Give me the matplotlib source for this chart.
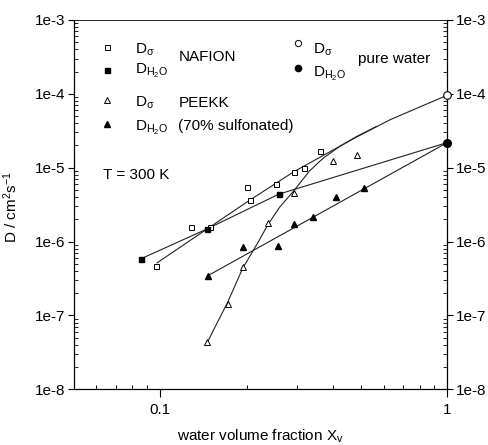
import matplotlib
matplotlib.use("Agg")
import math
import matplotlib.pyplot as plt
from matplotlib.ticker import LogLocator, FixedLocator, FuncFormatter, NullFormatter

plt.rcParams['font.family'] = ['Liberation Sans', 'DejaVu Sans']
plt.rcParams['mathtext.fontset'] = 'custom'
plt.rcParams['mathtext.rm'] = 'Liberation Sans'
plt.rcParams['mathtext.it'] = 'Liberation Sans:italic'
plt.rcParams['mathtext.sf'] = 'Liberation Sans'
FS = 11

# measured points
nafion_sig_x = [0.097, 0.128, 0.149, 0.201, 0.206, 0.254, 0.292, 0.318, 0.361]
nafion_sig_y = [4.6e-7, 1.58e-6, 1.55e-6, 5.45e-6, 3.63e-6, 6.0e-6, 8.8e-6, 9.8e-6, 1.69e-5]
nafion_h2o_x = [0.0856, 0.146, 0.26]
nafion_h2o_y = [5.8e-7, 1.49e-6, 4.37e-6]
peekk_sig_x = [0.146, 0.172, 0.194, 0.237, 0.293, 0.40, 0.486]
peekk_sig_y = [4.3e-8, 1.42e-7, 4.5e-7, 1.77e-6, 4.6e-6, 1.24e-5, 1.48e-5]
peekk_h2o_x = [0.147, 0.195, 0.257, 0.292, 0.34, 0.409, 0.512]
peekk_h2o_y = [3.47e-7, 8.4e-7, 8.8e-7, 1.72e-6, 2.18e-6, 3.99e-6, 5.38e-6]
water_x = [1.0]
water_sig_y = [9.6e-5]
water_h2o_y = [2.19e-5]

# guide curves
fit_nafion_sig_x = [0.0976, 0.1459, 0.2046, 0.2915, 0.3894, 0.4837, 0.6307, 0.8028, 1.0]
fit_nafion_sig_y = [5.15e-7, 1.486e-6, 3.61e-6, 8.77e-6, 1.637e-5, 2.61e-5, 4.44e-5, 6.65e-5, 9.57e-5]
fit_nafion_h2o_x = [0.0856, 0.1459, 0.2589, 1.0]
fit_nafion_h2o_y = [5.83e-7, 1.486e-6, 4.38e-6, 2.19e-5]
fit_peekk_h2o_x = [0.147, 1.0]
fit_peekk_h2o_y = [3.47e-7, 2.19e-5]
fit_peekk_sig_x = [0.1463, 0.1586, 0.1718, 0.1828, 0.1938, 0.2187, 0.2370, 0.2604,
                   0.2899, 0.3315, 0.3688, 0.4218, 0.4827, 0.5668]
fit_peekk_sig_y = [4.39e-8, 8.19e-8, 1.504e-7, 2.595e-7, 4.34e-7, 9.60e-7, 1.683e-6, 2.90e-6,
                   4.71e-6, 9.05e-6, 1.336e-5, 1.941e-5, 2.635e-5, 3.62e-5]

fig = plt.figure(figsize=(4.88, 4.45), dpi=100)
ax = fig.add_axes([0.151, 0.1252, 0.7657, 0.830])

lw = 0.8
for fx, fy in [(fit_nafion_sig_x, fit_nafion_sig_y), (fit_nafion_h2o_x, fit_nafion_h2o_y),
               (fit_peekk_h2o_x, fit_peekk_h2o_y), (fit_peekk_sig_x, fit_peekk_sig_y)]:
    ax.plot(fx, fy, '-', color='#222222', lw=lw, zorder=2)

ax.plot(nafion_sig_x, nafion_sig_y, 's', ms=3.6, mfc='white', mec='black', mew=0.7, ls='none', zorder=3)
ax.plot(nafion_h2o_x, nafion_h2o_y, 's', ms=3.6, mfc='black', mec='black', ls='none', zorder=3)
ax.plot(peekk_sig_x, peekk_sig_y, '^', ms=4, mfc='white', mec='black', mew=0.7, ls='none', zorder=3)
ax.plot(peekk_h2o_x, peekk_h2o_y, '^', ms=4, mfc='black', mec='black', ls='none', zorder=3)
ax.plot(water_x, water_sig_y, 'o', ms=5.5, mfc='white', mec='black', mew=0.8, ls='none', zorder=4, clip_on=False)
ax.plot(water_x, water_h2o_y, 'o', ms=5.5, mfc='black', mec='black', ls='none', zorder=4, clip_on=False)

ax.set_xscale('log')
ax.set_yscale('log')
ax.set_xlim(0.05, 1.0)
ax.set_ylim(1e-8, 1e-3)

for s in ['left', 'right', 'bottom']:
    ax.spines[s].set_linewidth(0.9)
ax.spines['top'].set_linewidth(0.6)

ax.xaxis.set_major_locator(FixedLocator([0.1, 1.0]))
ax.xaxis.set_major_formatter(FuncFormatter(lambda v, p: '%g' % v))
ax.xaxis.set_minor_locator(LogLocator(base=10, subs=range(2, 10), numticks=20))
ax.xaxis.set_minor_formatter(NullFormatter())
ax.tick_params(axis='x', which='major', direction='out', length=6, width=0.8, pad=4,
               labelsize=FS, top=False)
ax.tick_params(axis='x', which='minor', direction='in', length=3, width=0.7, top=False)

ax.yaxis.set_major_locator(LogLocator(base=10, numticks=10))
ax.yaxis.set_major_formatter(FuncFormatter(lambda v, p: '1e%d' % round(math.log10(v))))
ax.yaxis.set_minor_locator(LogLocator(base=10, subs=range(2, 10), numticks=20))
ax.yaxis.set_minor_formatter(NullFormatter())
ax.tick_params(axis='y', which='major', direction='out', length=4, width=0.8, pad=2,
               labelsize=FS, left=True, right=True, labelleft=True, labelright=True)
ax.tick_params(axis='y', which='minor', direction='in', length=3, width=0.6, left=True, right=True)

ax.set_xlabel(r'water volume fraction X$_\mathregular{v}$', fontsize=FS)
ax.xaxis.set_label_coords(0.499, -0.105)
ax.set_ylabel(r'D / cm$^\mathregular{2}$s$^\mathregular{-1}$', fontsize=FS)
ax.yaxis.set_label_coords(-0.143, 0.494)

# legend block drawn by hand
tr = ax.transAxes
mk = dict(transform=tr, ls='none', clip_on=False, mec='black')
ax.plot([0.090], [0.928], 's', ms=3.6, mfc='white', mew=0.7, **mk)
ax.plot([0.090], [0.865], 's', ms=3.6, mfc='black', **mk)
ax.plot([0.090], [0.783], '^', ms=4, mfc='white', mew=0.7, **mk)
ax.plot([0.090], [0.718], '^', ms=4, mfc='black', **mk)
ax.plot([0.599], [0.937], 'o', ms=4.5, mfc='white', mew=0.7, **mk)
ax.plot([0.599], [0.869], 'o', ms=4.5, mfc='black', **mk)

dsig = r'D$_\mathregular{\sigma}$'
dh2o = r'D$_\mathregular{H_2O}$'
tk = dict(transform=tr, fontsize=FS, va='baseline', ha='left')
ax.text(0.163, 0.909, dsig, **tk)
ax.text(0.163, 0.854, dh2o, **tk)
ax.text(0.280, 0.888, 'NAFION', **tk)
ax.text(0.163, 0.765, dsig, **tk)
ax.text(0.163, 0.700, dh2o, **tk)
ax.text(0.280, 0.764, 'PEEKK', **tk)
ax.text(0.280, 0.702, '(70% sulfonated)', **tk)
ax.text(0.078, 0.569, 'T = 300 K', **tk)
ax.text(0.640, 0.910, dsig, **tk)
ax.text(0.640, 0.845, dh2o, **tk)
ax.text(0.761, 0.883, 'pure water', **tk)

fig.savefig('out.png', dpi=100)
